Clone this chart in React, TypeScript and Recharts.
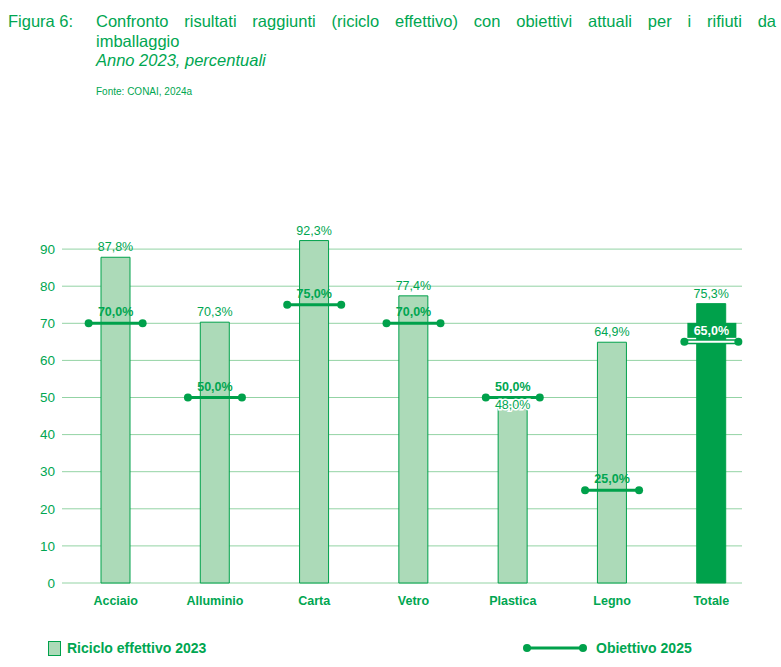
import React from "react";
import {
  ComposedChart,
  Bar,
  Line,
  XAxis,
  YAxis,
  CartesianGrid,
  LabelList,
  Cell,
} from "recharts";

const categories = ["Acciaio", "Alluminio", "Carta", "Vetro", "Plastica", "Legno", "Totale"];
const riciclo2023 = [87.8, 70.3, 92.3, 77.4, 48.0, 64.9, 75.3];
const obiettivo2025 = [70.0, 50.0, 75.0, 70.0, 50.0, 25.0, 65.0];
const yTicks = [0, 10, 20, 30, 40, 50, 60, 70, 80, 90];

const GREEN = "#00a14b";
const TEXT_GREEN = "#00a651";
const LIGHT = "#acdab8";
const GRID = "#93d3a4";

const data = categories.map((name, i) => ({
  name,
  riciclo: riciclo2023[i],
  obiettivo: obiettivo2025[i],
}));

const fmt = (v: number) => v.toFixed(1).replace(".", ",") + "%";

const TargetDot = (props: any) => {
  const { cx, cy, index, value } = props;
  if (cx == null || cy == null) return null;
  const half = 27;
  const isTotal = index === categories.length - 1;
  return (
    <g key={`t-${index}`}>
      {isTotal ? (
        <>
          <line x1={cx - half} x2={cx + half} y1={cy} y2={cy} stroke={GREEN} strokeWidth={5} />
          <line x1={cx - half} x2={cx + half} y1={cy} y2={cy} stroke="#fff" strokeWidth={2} />
          <rect x={cx - 24} y={cy - 19} width={49} height={15} fill={GREEN} />
        </>
      ) : (
        <line x1={cx - half} x2={cx + half} y1={cy} y2={cy} stroke={GREEN} strokeWidth={3} />
      )}
      <circle cx={cx - half} cy={cy} r={4} fill={GREEN} />
      <circle cx={cx + half} cy={cy} r={4} fill={GREEN} />
      <text
        x={cx}
        y={cy - 7}
        textAnchor="middle"
        fontSize={12.5}
        fontWeight="bold"
        fill={isTotal ? "#fff" : TEXT_GREEN}
      >
        {fmt(value)}
      </text>
    </g>
  );
};

// value label above the bar; tucked under the target line when the target sits just above the bar
const BarValueLabel = (props: any) => {
  const { x, y, width, value, index } = props;
  const gap = obiettivo2025[index] - riciclo2023[index];
  const close = gap > 0 && gap < 5;
  return (
    <text
      x={x + width / 2}
      y={close ? y + 4 : y - 6}
      textAnchor="middle"
      fontSize={12.5}
      fill={TEXT_GREEN}
      stroke={close ? "#fff" : "none"}
      strokeWidth={close ? 3 : 0}
      style={{ paintOrder: "stroke" }}
    >
      {fmt(Number(value))}
    </text>
  );
};

const titleFont = "'Liberation Sans', Arial, sans-serif";

export default function App() {
  return (
    <div
      style={{
        position: "absolute",
        left: 0,
        top: 0,
        width: 781,
        height: 667,
        background: "#fff",
        fontFamily: "'Liberation Sans', Arial, sans-serif",
        color: TEXT_GREEN,
      }}
    >
      <div
        style={{
          position: "absolute",
          left: 8,
          top: 12,
          fontFamily: titleFont,
          fontSize: 16.5,
          lineHeight: "19.5px",
        }}
      >
        Figura 6:
      </div>
      <div
        style={{
          position: "absolute",
          left: 96,
          top: 12,
          width: 680,
          fontFamily: titleFont,
          fontSize: 16.5,
          lineHeight: "19.5px",
        }}
      >
        <div style={{ textAlign: "justify", textAlignLast: "justify" }}>
          Confronto risultati raggiunti (riciclo effettivo) con obiettivi attuali per i rifiuti da
        </div>
        <div>imballaggio</div>
        <div style={{ fontStyle: "italic" }}>Anno 2023, percentuali</div>
      </div>
      <div
        style={{
          position: "absolute",
          left: 96,
          top: 86,
          fontFamily: titleFont,
          fontSize: 10,
        }}
      >
        Fonte: CONAI, 2024a
      </div>

      <div style={{ position: "absolute", left: 0, top: 0 }}>
        <ComposedChart
          width={781}
          height={620}
          data={data}
          margin={{ top: 212, right: 20, bottom: 0, left: 0 }}
        >
          <CartesianGrid
            vertical={false}
            stroke={GRID}
            x={62}
            width={680}
            horizontalValues={yTicks}
          />
          <XAxis
            dataKey="name"
            height={37}
            axisLine={false}
            tickLine={false}
            tickMargin={7}
            tick={{ fill: TEXT_GREEN, fontSize: 12.5, fontWeight: "bold" }}
          />
          <YAxis
            width={66}
            domain={[0, 100]}
            ticks={yTicks}
            axisLine={false}
            tickLine={false}
            tickMargin={5}
            tick={{ fill: TEXT_GREEN, fontSize: 13.5 }}
          />
          <Bar dataKey="riciclo" barSize={29} isAnimationActive={false} stroke={GREEN} strokeWidth={1}>
            {data.map((d, i) => (
              <Cell key={d.name} fill={i === data.length - 1 ? GREEN : LIGHT} />
            ))}
            <LabelList dataKey="riciclo" content={(p: any) => <BarValueLabel {...p} />} />
          </Bar>
          <Line
            dataKey="obiettivo"
            stroke="none"
            isAnimationActive={false}
            dot={(p: any) => <TargetDot {...p} />}
            activeDot={false}
          />
        </ComposedChart>
      </div>

      <div
        style={{
          position: "absolute",
          left: 48,
          top: 640,
          display: "flex",
          alignItems: "center",
          fontSize: 14,
          fontWeight: "bold",
          fontFamily: titleFont,
        }}
      >
        <span
          style={{
            display: "inline-block",
            width: 11,
            height: 13,
            background: LIGHT,
            border: `1px solid ${GREEN}`,
            marginRight: 6,
          }}
        />
        Riciclo effettivo 2023
      </div>
      <div
        style={{
          position: "absolute",
          left: 521,
          top: 640,
          display: "flex",
          alignItems: "center",
          fontSize: 14,
          fontWeight: "bold",
          fontFamily: titleFont,
        }}
      >
        <svg width={68} height={14} style={{ marginRight: 7 }}>
          <line x1={6} x2={62} y1={7} y2={7} stroke={GREEN} strokeWidth={3} />
          <circle cx={6} cy={7} r={4} fill={GREEN} />
          <circle cx={62} cy={7} r={4} fill={GREEN} />
        </svg>
        Obiettivo 2025
      </div>
    </div>
  );
}
